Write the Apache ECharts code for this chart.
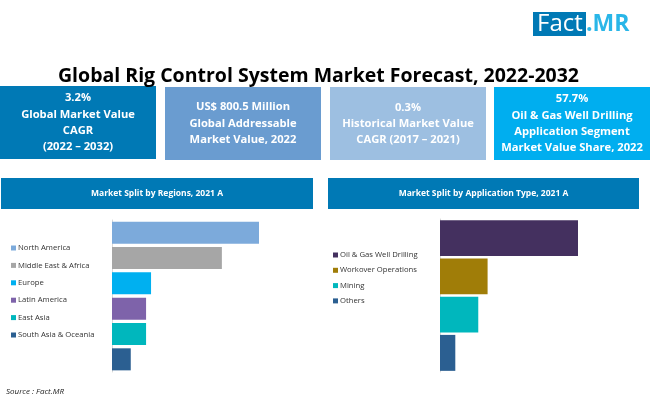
<!DOCTYPE html>
<html>
<head>
<meta charset="utf-8">
<style>
    html, body { margin: 0; padding: 0; background: #fff; }
    #main { width: 650px; height: 418px; }
</style>
<script src="https://cdn.jsdelivr.net/npm/echarts@6/dist/echarts.min.js"></script>
</head>
<body>
<div id="main"></div>
<script>
var regionNames = ['North America', 'Middle East & Africa', 'Europe', 'Latin America', 'East Asia', 'South Asia & Oceania'];
var regionValues = [38.4, 28.7, 10.2, 8.9, 8.9, 4.9];
var regionColors = ['#7CAADB', '#A6A6A6', '#00B0F0', '#7E63AA', '#00B7BD', '#2B5F91'];

var appNames = ['Oil & Gas Well Drilling', 'Workover Operations', 'Mining', 'Others'];
var appValues = [57.7, 19.9, 16.0, 6.4];
var appColors = ['#44305F', '#A07D08', '#00B7BD', '#2B5F91'];

var kpiLines = [
    ['3.2%', 'Global Market Value', 'CAGR', '(2022 – 2032)'],
    ['US$ 800.5 Million', 'Global Addressable', 'Market Value, 2022'],
    ['0.3%', 'Historical Market Value', 'CAGR (2017 – 2021)'],
    ['57.7%', 'Oil & Gas Well Drilling', 'Application Segment', 'Market Value Share, 2022']
];
var kpiColors = ['#0079B5', '#6A9CD0', '#9DBFE1', '#00AEEF'];
var kpiLeft = [0, 165, 330, 494];
var kpiMiddle = [122.5, 123.5, 124, 123.5];

var fontName = '"Open Sans", sans-serif';

function barSeries(names, values, colors, idx, gap) {
    return names.map(function (name, i) {
        return {
            name: name,
            type: 'bar',
            stack: 'split' + idx,
            xAxisIndex: idx,
            yAxisIndex: idx,
            barCategoryGap: gap,
            itemStyle: { color: colors[i] },
            data: values.map(function (v, j) { return j === i ? v : null; })
        };
    });
}

function kpiBox(i) {
    return [{
        type: 'rect',
        shape: { x: kpiLeft[i], y: i === 0 ? 86 : 87, width: 156, height: 73 },
        style: { fill: kpiColors[i] }
    }, {
        type: 'text',
        x: kpiLeft[i] + 78,
        y: kpiMiddle[i],
        style: {
            text: kpiLines[i].join('\n'),
            fill: '#fff',
            font: 'bold 11.2px ' + fontName,
            lineHeight: 16.3,
            align: 'center',
            verticalAlign: 'middle'
        }
    }];
}

function headerBox(x, width, label) {
    return [{
        type: 'rect',
        shape: { x: x, y: 178, width: width, height: 31 },
        style: { fill: '#0079B5' }
    }, {
        type: 'text',
        x: x + width / 2,
        y: 193.5,
        style: {
            text: label,
            fill: '#fff',
            font: 'bold 8.5px ' + fontName,
            align: 'center',
            verticalAlign: 'middle'
        }
    }];
}

var chart = echarts.init(document.getElementById('main'));

var graphics = []
    .concat(kpiBox(0), kpiBox(1), kpiBox(2), kpiBox(3))
    .concat(headerBox(1, 312, 'Market Split by Regions, 2021 A'))
    .concat(headerBox(328, 311, 'Market Split by Application Type, 2021 A'))
    .concat([
        { type: 'rect', shape: { x: 533, y: 12, width: 53, height: 24 }, style: { fill: '#0079B5' } },
        { type: 'text', x: 537, y: 24, style: { text: 'Fact', fill: '#fff', font: '24px ' + fontName, verticalAlign: 'middle' } },
        { type: 'text', x: 586, y: 24, style: { text: '.MR', fill: '#29B6E8', font: 'bold 23px ' + fontName, verticalAlign: 'middle' } },
        { type: 'text', x: 6, y: 392, style: { text: 'Source : Fact.MR', fill: '#222', font: 'italic 8px ' + fontName, verticalAlign: 'middle' } }
    ]);

var option = {
    backgroundColor: '#fff',
    animation: false,
    title: {
        text: 'Global Rig Control System Market Forecast, 2022-2032',
        left: 313.5,
        textAlign: 'center',
        top: 61,
        textStyle: { color: '#000', fontFamily: fontName, fontWeight: 'bold', fontSize: 19.5 }
    },
    legend: [{
        orient: 'vertical',
        left: 11,
        top: 244,
        padding: 0,
        itemWidth: 5,
        itemHeight: 5,
        itemGap: 9.4,
        icon: 'rect',
        data: regionNames,
        selectedMode: false,
        textStyle: { color: '#333', fontFamily: fontName, fontSize: 7.7, padding: [0, 0, 0, -3] }
    }, {
        orient: 'vertical',
        left: 333,
        top: 251,
        padding: 0,
        itemWidth: 5,
        itemHeight: 5,
        itemGap: 7.3,
        icon: 'rect',
        data: appNames,
        selectedMode: false,
        textStyle: { color: '#333', fontFamily: fontName, fontSize: 7.7, padding: [0, 0, 0, -3] }
    }],
    grid: [
        { left: 112, top: 220, width: 147, height: 152 },
        { left: 440, top: 219, width: 138, height: 153 }
    ],
    xAxis: [
        { gridIndex: 0, type: 'value', min: 0, max: 38.4, show: false },
        { gridIndex: 1, type: 'value', min: 0, max: 57.7, show: false }
    ],
    yAxis: [
        {
            gridIndex: 0, type: 'category', inverse: true, data: regionNames,
            axisLine: { lineStyle: { color: '#D9D9D9' } },
            axisTick: { show: false }, axisLabel: { show: false }
        },
        {
            gridIndex: 1, type: 'category', inverse: true, data: appNames,
            axisLine: { lineStyle: { color: '#D9D9D9' } },
            axisTick: { show: false }, axisLabel: { show: false }
        }
    ],
    series: barSeries(regionNames, regionValues, regionColors, 0, '13%')
        .concat(barSeries(appNames, appValues, appColors, 1, '6%')),
    graphic: graphics
};

chart.setOption(option);
</script>
</body>
</html>
